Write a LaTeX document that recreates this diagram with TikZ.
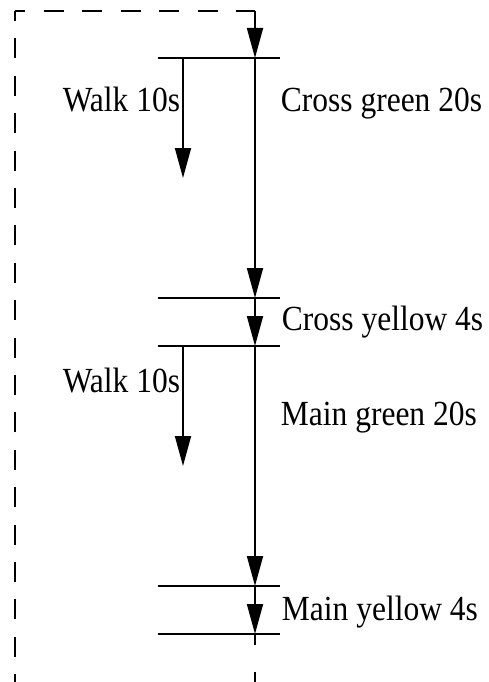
\documentclass[tikz,border=0pt]{standalone}
\usepackage{fontspec}
\setmainfont{Liberation Serif}
\usetikzlibrary{arrows.meta,calc}
\newcommand\talltext[1]{\scalebox{1}[1.12]{#1}}
\begin{document}
\begin{tikzpicture}[x=1pt,y=-1pt,
  line width=1.8pt,
  tip/.tip={Triangle[length=30pt,width=16pt]},
  flow/.style={-tip},
  bar/.style={line cap=butt},
  loopline/.style={dash pattern=on 20pt off 17.4pt,dash phase=12.2pt},
  topline/.style={dash pattern=on 20pt off 18.5pt,dash phase=10pt},
  dropline/.style={dash pattern=on 20pt off 18pt},
  tailline/.style={dash pattern=on 11pt off 27pt},
  lbl/.style={inner sep=0pt,font=\fontsize{31.5}{36}\selectfont},
  lblr/.style={lbl,anchor=base west},
  lbll/.style={lbl,anchor=base east}]
\useasboundingbox (0,0) rectangle (488,682);

% stage boundaries on the main time line
\foreach \n/\y in {1/58,2/298,3/346,4/586,5/634}{
  \coordinate (b\n) at (255,\y);
  \coordinate (b\n l) at (158,\y);
  \coordinate (b\n r) at (280,\y);
  \draw[bar] (b\n l) -- (b\n r);
}

% walk signal start points and ends
\coordinate (w1) at (183,58);
\coordinate (w1e) at (183,178);
\coordinate (w2) at (183,346);
\coordinate (w2e) at (183,466);

% corners of the return loop
\coordinate (lb) at (15,682);
\coordinate (tl) at (15,11);
\coordinate (tr) at (255,11);
\coordinate (rb) at (255,682);

% return loop back to the start of the cycle
\draw[loopline] (lb) -- (tl);
\draw[topline] (tl) -- (tr);
\draw[dropline,flow] (tr) -- (b1);
\draw[tailline] (b5) -- (rb);

% main sequence
\draw[flow] (b1) -- (b2);
\draw[flow] (b2) -- (b3);
\draw[flow] (b3) -- (b4);
\draw[flow] (b4) -- (b5);

% walk intervals
\draw[flow] (w1) -- (w1e);
\draw[flow] (w2) -- (w2e);

% labels
\node[lbll] (walk1) at (181,112) {\talltext{Walk 10s}};
\node[lbll] (walk2) at (181,392) {\talltext{Walk 10s}};
\node[lblr] (cg) at (280,112) {\talltext{Cross green 20s}};
\node[lblr] (cy) at (281,330) {\talltext{Cross yellow 4s}};
\node[lblr] (mg) at (280,425) {\talltext{Main green 20s}};
\node[lblr] (my) at (281,620) {\talltext{Main yellow 4s}};
\end{tikzpicture}
\end{document}
